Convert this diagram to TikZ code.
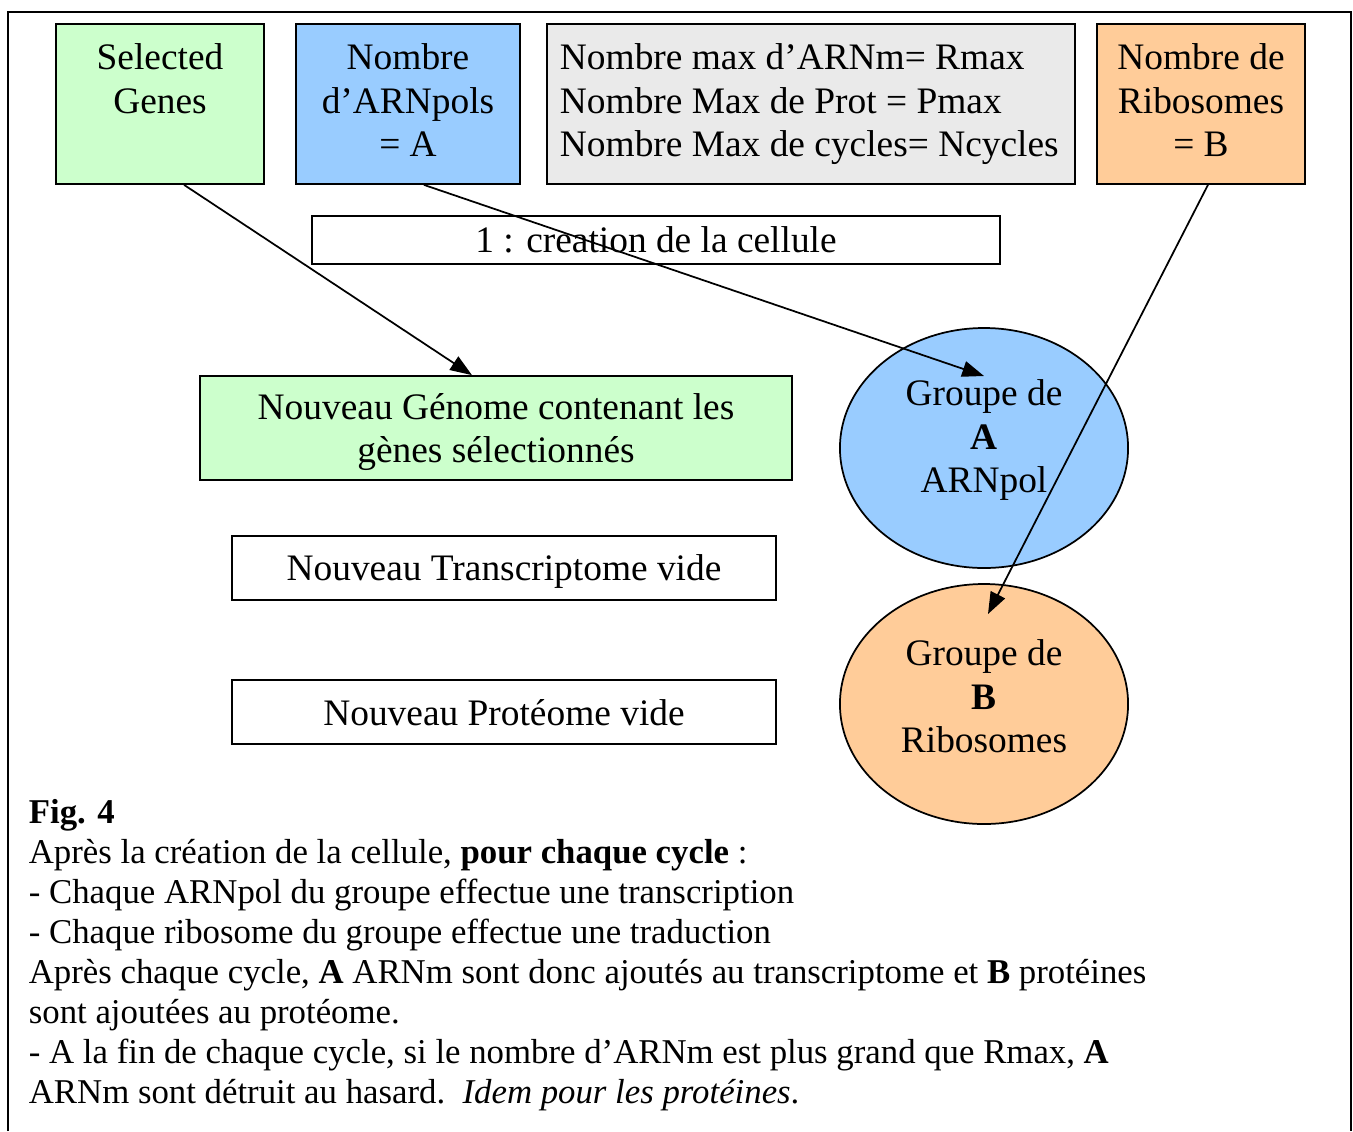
\documentclass[tikz,border=0pt]{standalone}
\usepackage{fontspec}
\setmainfont{Liberation Serif}
\usetikzlibrary{arrows.meta,shapes.geometric}
\definecolor{vertclair}{HTML}{CCFFCC}
\definecolor{bleuclair}{HTML}{99CCFF}
\definecolor{grisclair}{HTML}{EAEAEA}
\definecolor{orangeclair}{HTML}{FFCC99}
\begin{document}
\begin{tikzpicture}[x=0.345pt, y=-0.345pt, line width=0.6pt,
		font=\fontsize{12.9}{15}\selectfont,
		>={Triangle[length=7.5pt, width=5.5pt]},
		box/.style={draw, rectangle, inner sep=0pt, align=center},
		txt/.style={inner sep=0pt, align=center},
		grp/.style={draw, ellipse, inner sep=0pt, minimum width=99.4pt, minimum height=82.8pt}]
			\useasboundingbox (0,0) rectangle (1353,1131);
			\draw (8,1131) -- (8,12) -- (1351,12) -- (1351,1131);

			% ligne du haut
			\node[box, fill=vertclair, minimum width=71.8pt, minimum height=55.2pt] (sel) at (160,104) {};
			\node[box, fill=bleuclair, minimum width=77.3pt, minimum height=55.2pt] (pol) at (408,104) {};
			\node[box, fill=grisclair, minimum width=182.2pt, minimum height=55.2pt] (par) at (811,104) {};
			\node[box, fill=orangeclair, minimum width=71.8pt, minimum height=55.2pt] (rib) at (1201,104) {};
			\node[txt, anchor=north] (selt) at ([yshift=-6.8pt]sel.north) {Selected\\Genes};
			\node[txt, anchor=north] (polt) at ([yshift=-6.8pt]pol.north) {Nombre\\d’ARNpols\\= A};
			\node[txt, align=left, anchor=north west] (part) at ([xshift=4.5pt, yshift=-6.8pt]par.north west) {Nombre max d’ARNm= Rmax\\Nombre Max de Prot = Pmax\\Nombre Max de cycles= Ncycles};
			\node[txt, anchor=north] (ribt) at ([yshift=-6.8pt]rib.north) {Nombre de\\Ribosomes\\= B};

			% la cellule
			\node[box, minimum width=237.4pt, minimum height=16.6pt] (creat) at (656,240) {1 : creation de la cellule};
			\node[box, fill=vertclair, text depth=0pt, minimum width=204.2pt, minimum height=35.9pt] (gen) at (496,428) {Nouveau Génome contenant les\\gènes sélectionnés};
			\node[box, text depth=0pt, minimum width=187.7pt, minimum height=22.1pt] (trans) at (504,568) {Nouveau Transcriptome vide};
			\node[box, text depth=0pt, minimum width=187.7pt, minimum height=22.1pt] (prot) at (504,712) {Nouveau Protéome vide};
			\node[grp, fill=bleuclair] (grA) at (984,448) {};
			\node[grp, fill=orangeclair] (grB) at (984,704) {};
			\node[txt] (grAt) at ([yshift=2.6pt]grA.center) {Groupe de\\\textbf{A}\\ARNpol};
			\node[txt] (grBt) at ([yshift=2.6pt]grB.center) {Groupe de\\\textbf{B}\\Ribosomes};
			\coordinate (ptA) at (984,376);
			\coordinate (ptB) at (988,614);

			\draw[->] ([xshift=8.3pt]sel.south) -- ([xshift=-8.3pt]gen.north);
			\draw[->] ([xshift=5.5pt]pol.south) -- (ptA);
			\draw[->] ([xshift=2.4pt]rib.south) -- (ptB);

			% legende
			\node[inner sep=0pt, align=left, anchor=north west, font=\fontsize{12}{13.8}\selectfont] (leg) at (28,798) {\textbf{Fig. 4}\\
				Après la création de la cellule, \textbf{pour chaque cycle} :\\
				- Chaque ARNpol du groupe effectue une transcription\\
				- Chaque ribosome du groupe effectue une traduction\\
				Après chaque cycle, \textbf{A} ARNm sont donc ajoutés au transcriptome et \textbf{B} protéines\\
				sont ajoutées au protéome.\\
				- A la fin de chaque cycle, si le nombre d’ARNm est plus grand que Rmax, \textbf{A}\\
				ARNm sont détruit au hasard.\ \ \textit{Idem pour les protéines}.};
		\end{tikzpicture}
\end{document}
